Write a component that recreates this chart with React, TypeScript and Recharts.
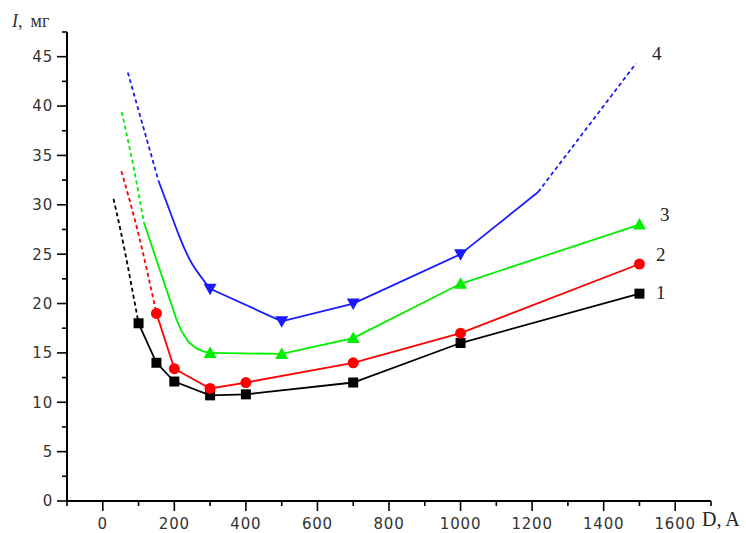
import React from 'react';
import { LineChart, Line, XAxis, YAxis } from 'recharts';

// Axis ticks
const xTicks = [-100, 0, 100, 200, 300, 400, 500, 600, 700, 800, 900, 1000, 1100, 1200, 1300, 1400, 1500, 1600, 1700];
const xLabelTicks = [0, 200, 400, 600, 800, 1000, 1200, 1400, 1600];
const yTicks = [0, 2.5, 5, 7.5, 10, 12.5, 15, 17.5, 20, 22.5, 25, 27.5, 30, 32.5, 35, 37.5, 40, 42.5, 45, 47.5];
const yLabelTicks = [0, 5, 10, 15, 20, 25, 30, 35, 40, 45];

// Series 1 (black squares)
const s1X = [100, 150, 200, 300, 400, 700, 1000, 1500];
const s1Y = [18, 14, 12.1, 10.7, 10.8, 12, 16, 21];
const s1DashX = [30, 60, 100];
const s1DashY = [30.6, 25.6, 18];

// Series 2 (red circles)
const s2X = [150, 200, 300, 400, 700, 1000, 1500];
const s2Y = [19, 13.4, 11.4, 12, 14, 17, 24];
const s2DashX = [52, 100, 150];
const s2DashY = [33.4, 27, 19];

// Series 3 (green triangles)
const s3X = [300, 500, 700, 1000, 1500];
const s3Y = [15, 14.9, 16.5, 22, 28];
const s3CurveX = [115, 205, 220, 240, 260, 280, 300];
const s3CurveY = [28.2, 18.5, 17.2, 16.1, 15.5, 15.15, 15];
const s3DashX = [53, 85, 115];
const s3DashY = [39.4, 34, 28.2];

// Series 4 (blue down-triangles)
const s4X = [300, 500, 700, 1000];
const s4Y = [21.5, 18.2, 20, 25];
const s4CurveX = [156, 185, 214, 250, 300];
const s4CurveY = [32.4, 29.6, 26.8, 24, 21.5];
const s4TailX = [1000, 1217];
const s4TailY = [25, 31.3];
const s4DashLeftX = [70, 156];
const s4DashLeftY = [43.4, 32.4];
const s4DashRightX = [1217, 1490];
const s4DashRightY = [31.3, 44.3];

const seriesLabels = ['1', '2', '3', '4'];

const pts = (xs: number[], ys: number[]) => xs.map((x, i) => ({ x, y: ys[i] }));

const BLACK = '#000000';
const RED = '#ff0000';
const GREEN = '#00ee00';
const BLUE = '#1a1aff';

const makeDot = (shape: string, color: string) => (props: any) => {
  const { cx, cy, index } = props;
  if (cx == null || cy == null) return <g key={`d${index}`} />;
  if (shape === 'square') {
    return <rect key={`d${index}`} x={cx - 5} y={cy - 5} width={10} height={10} fill={color} />;
  }
  if (shape === 'circle') {
    return <circle key={`d${index}`} cx={cx} cy={cy} r={5.5} fill={color} />;
  }
  if (shape === 'up') {
    return (
      <polygon
        key={`d${index}`}
        points={`${cx},${cy - 6.5} ${cx + 6.5},${cy + 5} ${cx - 6.5},${cy + 5}`}
        fill={color}
      />
    );
  }
  return (
    <polygon
      key={`d${index}`}
      points={`${cx},${cy + 6.5} ${cx + 6.5},${cy - 5} ${cx - 6.5},${cy - 5}`}
      fill={color}
    />
  );
};

const tickFont = "'DejaVu Sans', sans-serif";

const XTick = (props: any) => {
  const { x, y, payload } = props;
  const v = payload.value;
  const major = xLabelTicks.includes(v);
  return (
    <g>
      <line x1={x} x2={x} y1={y} y2={y + (major ? 10 : 5)} stroke="#000" strokeWidth={1.6} />
      {major && (
        <text
          x={x}
          y={y + 28}
          textAnchor="middle"
          fill="#333"
          fontSize={15}
          fontFamily={tickFont}
          letterSpacing={0.8}
        >
          {v}
        </text>
      )}
    </g>
  );
};

const YTick = (props: any) => {
  const { x, y, payload } = props;
  const v = payload.value;
  const major = yLabelTicks.includes(v);
  return (
    <g>
      <line x1={x} x2={x - (major ? 10 : 5)} y1={y} y2={y} stroke="#000" strokeWidth={1.6} />
      {major && (
        <text
          x={x - 14}
          y={y}
          dy="0.36em"
          textAnchor="end"
          fill="#333"
          fontSize={15}
          fontFamily={tickFont}
          letterSpacing={0.8}
        >
          {v}
        </text>
      )}
    </g>
  );
};

const serif = "'Liberation Serif', 'Times New Roman', serif";

export default function App() {
  const solidW = 1.8;
  const dash = '4 3';
  return (
    <div style={{ position: 'absolute', left: 0, top: 0, width: 746, height: 533, background: '#fff', overflow: 'hidden' }}>
      <LineChart width={746} height={533} margin={{ top: 32, right: 35, left: 0, bottom: 0 }}>
        <XAxis
          type="number"
          dataKey="x"
          domain={[-100, 1700]}
          ticks={xTicks}
          interval={0}
          allowDataOverflow
          height={32}
          tickSize={0}
          tickMargin={0}
          tickLine={false}
          axisLine={{ stroke: '#000', strokeWidth: 2 }}
          tick={(p: any) => <XTick {...p} />}
        />
        <YAxis
          type="number"
          dataKey="y"
          domain={[0, 47.5]}
          ticks={yTicks}
          interval={0}
          allowDataOverflow
          width={67}
          tickSize={0}
          tickMargin={0}
          tickLine={false}
          axisLine={{ stroke: '#000', strokeWidth: 2 }}
          tick={(p: any) => <YTick {...p} />}
        />

        {/* dashed extrapolations */}
        <Line data={pts(s1DashX, s1DashY)} dataKey="y" type="natural" stroke={BLACK} strokeWidth={solidW} strokeDasharray={dash} dot={false} isAnimationActive={false} />
        <Line data={pts(s2DashX, s2DashY)} dataKey="y" type="natural" stroke={RED} strokeWidth={solidW} strokeDasharray={dash} dot={false} isAnimationActive={false} />
        <Line data={pts(s3DashX, s3DashY)} dataKey="y" type="natural" stroke={GREEN} strokeWidth={solidW} strokeDasharray={dash} dot={false} isAnimationActive={false} />
        <Line data={pts(s4DashLeftX, s4DashLeftY)} dataKey="y" type="linear" stroke={BLUE} strokeWidth={solidW} strokeDasharray={dash} dot={false} isAnimationActive={false} />
        <Line data={pts(s4DashRightX, s4DashRightY)} dataKey="y" type="linear" stroke={BLUE} strokeWidth={solidW} strokeDasharray={dash} dot={false} isAnimationActive={false} />

        {/* smooth solid parts */}
        <Line data={pts(s3CurveX, s3CurveY)} dataKey="y" type="linear" stroke={GREEN} strokeWidth={solidW} dot={false} isAnimationActive={false} />
        <Line data={pts(s4CurveX, s4CurveY)} dataKey="y" type="natural" stroke={BLUE} strokeWidth={solidW} dot={false} isAnimationActive={false} />
        <Line data={pts(s4TailX, s4TailY)} dataKey="y" type="linear" stroke={BLUE} strokeWidth={solidW} dot={false} isAnimationActive={false} />

        {/* measured series */}
        <Line data={pts(s1X, s1Y)} dataKey="y" type="linear" stroke={BLACK} strokeWidth={solidW} dot={makeDot('square', BLACK)} isAnimationActive={false} />
        <Line data={pts(s2X, s2Y)} dataKey="y" type="linear" stroke={RED} strokeWidth={solidW} dot={makeDot('circle', RED)} isAnimationActive={false} />
        <Line data={pts(s3X, s3Y)} dataKey="y" type="linear" stroke={GREEN} strokeWidth={solidW} dot={makeDot('up', GREEN)} isAnimationActive={false} />
        <Line data={pts(s4X, s4Y)} dataKey="y" type="linear" stroke={BLUE} strokeWidth={solidW} dot={makeDot('down', BLUE)} isAnimationActive={false} />
      </LineChart>

      {/* axis titles */}
      <div style={{ position: 'absolute', left: 12, top: 11, fontFamily: serif, fontSize: 18, color: '#333', whiteSpace: 'nowrap' }}>
        <i>I</i>,<span style={{ marginLeft: 8 }}>мг</span>
      </div>
      <div style={{ position: 'absolute', left: 702, top: 508, fontFamily: serif, fontSize: 20, color: '#222', whiteSpace: 'nowrap' }}>
        D, A
      </div>

      {/* series labels */}
      <div style={{ position: 'absolute', left: 656, top: 282, fontFamily: serif, fontSize: 19, color: '#222' }}>{seriesLabels[0]}</div>
      <div style={{ position: 'absolute', left: 656, top: 244, fontFamily: serif, fontSize: 19, color: '#222' }}>{seriesLabels[1]}</div>
      <div style={{ position: 'absolute', left: 660, top: 204, fontFamily: serif, fontSize: 19, color: '#222' }}>{seriesLabels[2]}</div>
      <div style={{ position: 'absolute', left: 652, top: 43, fontFamily: serif, fontSize: 19, color: '#222' }}>{seriesLabels[3]}</div>
    </div>
  );
}
